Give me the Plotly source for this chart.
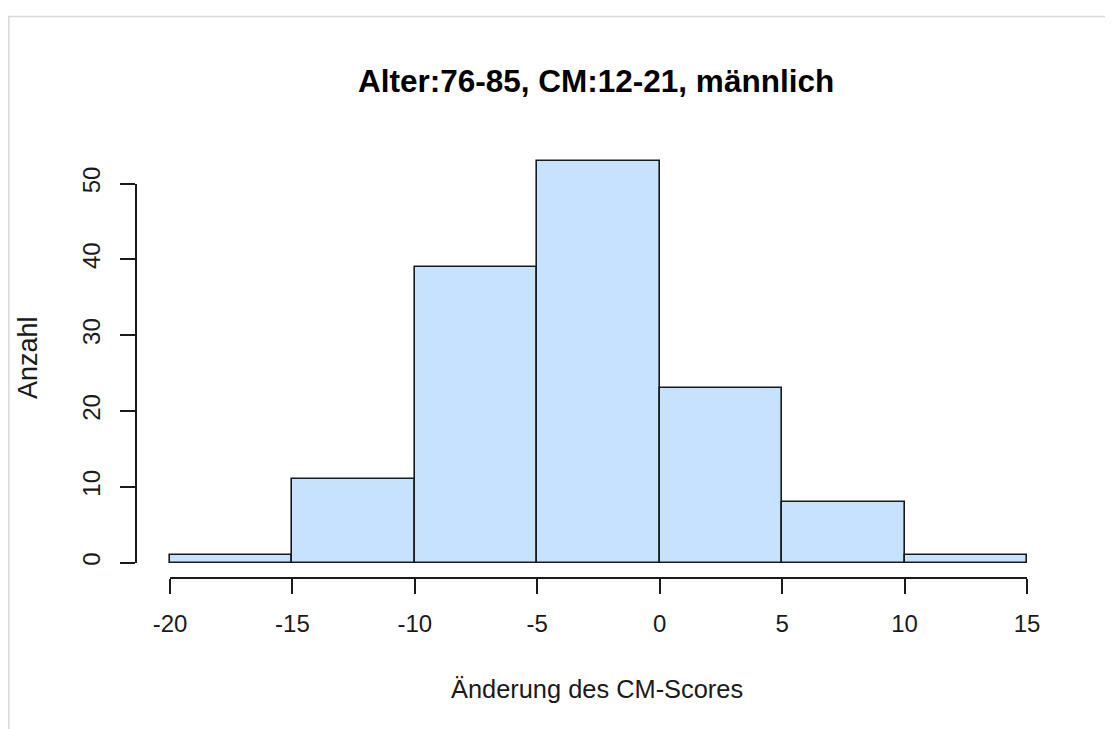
import plotly.graph_objects as go

# ---- data ----
bin_edges = [-20, -15, -10, -5, 0, 5, 10, 15]
counts = [1, 11, 39, 53, 23, 8, 1]
x_ticks = [-20, -15, -10, -5, 0, 5, 10, 15]
y_ticks = [0, 10, 20, 30, 40, 50]
title_text = "Alter:76-85, CM:12-21, männlich"
x_label = "Änderung des CM-Scores"
y_label = "Anzahl"

W, H = 1113, 729
OFF = 8.0  # page offset of the figure inside the window
FONT = "Liberation Sans, Arial, sans-serif"

# pixel anchors of the R plot region (window coordinates, minus page offset)
px_xmin, px_xmax = 170.0 - OFF, 1027.0 - OFF      # -20 .. 15
py_y0, py_y50 = 562.7 - OFF, 183.5 - OFF          # 0 .. 50
x_axis_py = 578.3 - OFF
y_axis_px = 136.0 - OFF

sx = (px_xmax - px_xmin) / (x_ticks[-1] - x_ticks[0])
sy = (py_y0 - py_y50) / (y_ticks[-1] - y_ticks[0])
x_range = [x_ticks[0] - px_xmin / sx, x_ticks[0] + (W - px_xmin) / sx]
y_range = [-(H - py_y0) / sy, py_y0 / sy]

centers = [(a + b) / 2 for a, b in zip(bin_edges[:-1], bin_edges[1:])]
widths = [b - a for a, b in zip(bin_edges[:-1], bin_edges[1:])]

fig = go.Figure()
fig.add_trace(go.Bar(
    x=centers, y=counts, width=widths,
    marker=dict(color="#C6E2FF", line=dict(color="#1a1a1a", width=1.6)),
    hoverinfo="x+y", showlegend=False, xaxis="x", yaxis="y",
))
# invisible trace to hold the detached R-style axes
fig.add_trace(go.Scatter(
    x=[x_ticks[0], x_ticks[-1]], y=[y_ticks[0], y_ticks[-1]],
    mode="markers", marker=dict(size=1, opacity=0),
    hoverinfo="skip", showlegend=False, xaxis="x2", yaxis="y2",
))

tickfont = dict(family=FONT, size=24, color="#1a1a1a")

fig.update_layout(
    width=W, height=H,
    margin=dict(l=0, r=0, t=0, b=0, autoexpand=False),
    paper_bgcolor="white", plot_bgcolor="rgba(0,0,0,0)",
    bargap=0,
    xaxis=dict(domain=[0, 1], range=x_range, visible=False, fixedrange=True),
    yaxis=dict(domain=[0, 1], range=y_range, visible=False, fixedrange=True),
    xaxis2=dict(
        anchor="free", position=1 - x_axis_py / H,
        domain=[px_xmin / W, px_xmax / W], range=[x_ticks[0], x_ticks[-1]],
        showline=True, linecolor="#1a1a1a", linewidth=1.6,
        ticks="outside", ticklen=15, tickwidth=1.6, tickcolor="#1a1a1a",
        tickvals=x_ticks, ticktext=[str(v) for v in x_ticks],
        showgrid=False, zeroline=False, tickfont=tickfont,
        ticklabelstandoff=9, fixedrange=True, automargin=False,
    ),
    yaxis2=dict(
        anchor="free", position=y_axis_px / W, side="left",
        domain=[1 - py_y0 / H, 1 - py_y50 / H], range=[y_ticks[0], y_ticks[-1]],
        showline=True, linecolor="#1a1a1a", linewidth=1.6,
        ticks="outside", ticklen=15, tickwidth=1.6, tickcolor="#1a1a1a",
        tickvals=y_ticks, ticktext=[str(v) for v in y_ticks], tickangle=-90,
        showgrid=False, zeroline=False, tickfont=tickfont,
        ticklabelstandoff=11, fixedrange=True, automargin=False,
    ),
    annotations=[
        dict(text="<b>" + title_text + "</b>", x=(595.5 - OFF) / W, y=1 - (81 - OFF) / H,
             xref="paper", yref="paper", xanchor="center", yanchor="middle",
             showarrow=False, font=dict(family=FONT, size=31.5, color="black")),
        dict(text=x_label, x=(597 - OFF) / W, y=1 - (689 - OFF) / H,
             xref="paper", yref="paper", xanchor="center", yanchor="middle",
             showarrow=False, font=dict(family=FONT, size=25.4, color="#1a1a1a")),
        dict(text=y_label, x=(28 - OFF) / W, y=1 - (358 - OFF) / H, textangle=-90,
             xref="paper", yref="paper", xanchor="center", yanchor="middle",
             showarrow=False, font=dict(family=FONT, size=27, color="#1a1a1a")),
    ],
    shapes=[
        dict(type="line", xref="paper", yref="paper",
             x0=0, x1=1, y0=1 - (16.5 - OFF) / H, y1=1 - (16.5 - OFF) / H,
             line=dict(color="#d9d9d9", width=1.5)),
        dict(type="line", xref="paper", yref="paper",
             x0=0.8 / W, x1=0.8 / W, y0=0, y1=1 - (16 - OFF) / H,
             line=dict(color="#d9d9d9", width=1.5)),
    ],
)

fig.write_html("out.html")
